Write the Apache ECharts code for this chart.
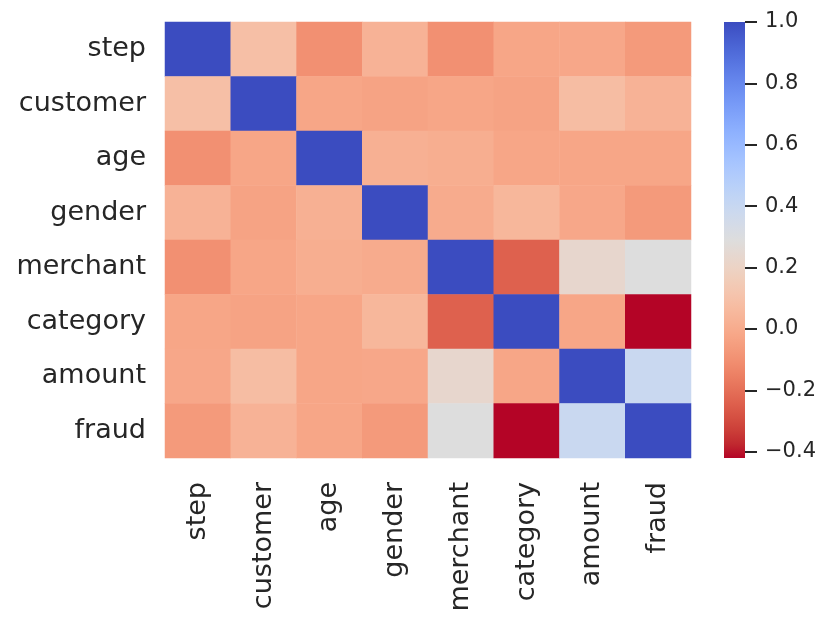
<!DOCTYPE html>
<html>
<head>
<meta charset="utf-8">
<script src="https://cdn.jsdelivr.net/npm/echarts@6/dist/echarts.min.js"></script>
<style>
	html, body { margin: 0; padding: 0; background: #fff; }
	#chart { width: 831px; height: 623px; }
</style>
</head>
<body>
<div id="chart"></div>
<script>
	// variable names, same order on both axes
	var features = ['step', 'customer', 'age', 'gender', 'merchant', 'category', 'amount', 'fraud'];

	// correlation rows
	var rowStep     = [1.00, 0.09, -0.10, 0.03, -0.10, -0.02, -0.015, -0.065];
	var rowCustomer = [0.09, 1.00, -0.02, -0.03, -0.02, -0.03, 0.08, 0.03];
	var rowAge      = [-0.10, -0.02, 1.00, 0.02, 0.01, -0.02, -0.02, -0.02];
	var rowGender   = [0.03, -0.03, 0.02, 1.00, 0.00, 0.05, -0.015, -0.065];
	var rowMerchant = [-0.10, -0.02, 0.01, 0.00, 1.00, -0.24, 0.23, 0.29];
	var rowCategory = [-0.02, -0.03, -0.02, 0.05, -0.24, 1.00, -0.02, -0.42];
	var rowAmount   = [-0.015, 0.08, -0.02, -0.015, 0.23, -0.02, 1.00, 0.39];
	var rowFraud    = [-0.065, 0.03, -0.02, -0.065, 0.29, -0.42, 0.39, 1.00];
	var rows = [rowStep, rowCustomer, rowAge, rowGender, rowMerchant, rowCategory, rowAmount, rowFraud];

	// colour bar
	var vmin = -0.42, vmax = 1.0;
	var cbTicks = [-0.4, -0.2, 0.0, 0.2, 0.4, 0.6, 0.8, 1.0];

	// coolwarm, low (blue) -> high (red)
	var coolwarm = ['#3b4cc0', '#445acc', '#4d68d7', '#5775e1', '#6282ea', '#6c8ef1', '#779af7', '#82a5fb',
		'#8db0fe', '#98b9ff', '#a3c2ff', '#aec9fd', '#b8d0f9', '#c2d5f4', '#ccd9ee', '#d5dbe6',
		'#dddddd', '#e5d8d1', '#ecd3c5', '#f1ccb8', '#f5c4ad', '#f7bba0', '#f7b194', '#f7a687',
		'#f49a7b', '#f18d6f', '#ec7f63', '#e57058', '#de604d', '#d55042', '#cb3e38', '#c0282f', '#b40426'];
	var coolwarmR = coolwarm.slice().reverse();

	var cells = [];
	rows.forEach(function (r, i) {
		r.forEach(function (v, j) { cells.push([j, i, v]); });
	});

	var font = 'DejaVu Sans';
	var ink = '#262626';

	var chart = echarts.init(document.getElementById('chart'));
	chart.setOption({
		backgroundColor: '#fff',
		animation: false,
		grid: [
			{ left: 165, right: 140, top: 22, bottom: 165 },
			{ left: 724, width: 21, top: 22, bottom: 165 }
		],
		xAxis: [
			{
				type: 'category', data: features, gridIndex: 0,
				axisLine: { show: false }, axisTick: { show: false }, splitLine: { show: false },
				axisLabel: { rotate: 90, margin: 24, fontSize: 27, fontFamily: font, color: ink }
			},
			{ type: 'value', gridIndex: 1, min: 0, max: 1, show: false }
		],
		yAxis: [
			{
				type: 'category', data: features, gridIndex: 0, inverse: true,
				axisLine: { show: false }, axisTick: { show: false }, splitLine: { show: false },
				axisLabel: { margin: 19, fontSize: 27, fontFamily: font, color: ink }
			},
			{
				type: 'value', gridIndex: 1, position: 'right', min: vmin, max: vmax,
				splitLine: { show: false },
				axisLine: { show: false, onZero: false },
				axisTick: { show: true, length: 12, customValues: cbTicks, lineStyle: { color: ink, width: 2 } },
				axisLabel: {
					margin: 20, fontSize: 21, fontFamily: font, color: ink, customValues: cbTicks,
					formatter: function (v) { return v.toFixed(1).replace('-', '\u2212'); }
				}
			}
		],
		visualMap: {
			show: false, type: 'continuous', seriesIndex: 0,
			min: vmin, max: vmax, inRange: { color: coolwarmR }
		},
		series: [
			{
				type: 'heatmap', xAxisIndex: 0, yAxisIndex: 0, data: cells,
				itemStyle: { borderWidth: 0 }, emphasis: { disabled: true }
			},
			{
				type: 'custom', xAxisIndex: 1, yAxisIndex: 1,
				data: [[0, 1, vmin, vmax]],
				renderItem: function (params, api) {
					var p0 = api.coord([api.value(0), api.value(3)]);
					var p1 = api.coord([api.value(1), api.value(2)]);
					var stops = coolwarmR.map(function (c, k) {
						return { offset: 1 - k / (coolwarmR.length - 1), color: c };
					});
					return {
						type: 'rect',
						shape: { x: p0[0], y: p0[1], width: p1[0] - p0[0], height: p1[1] - p0[1] },
						style: { fill: new echarts.graphic.LinearGradient(0, 0, 0, 1, stops) }
					};
				}
			}
		]
	});
</script>
</body>
</html>
